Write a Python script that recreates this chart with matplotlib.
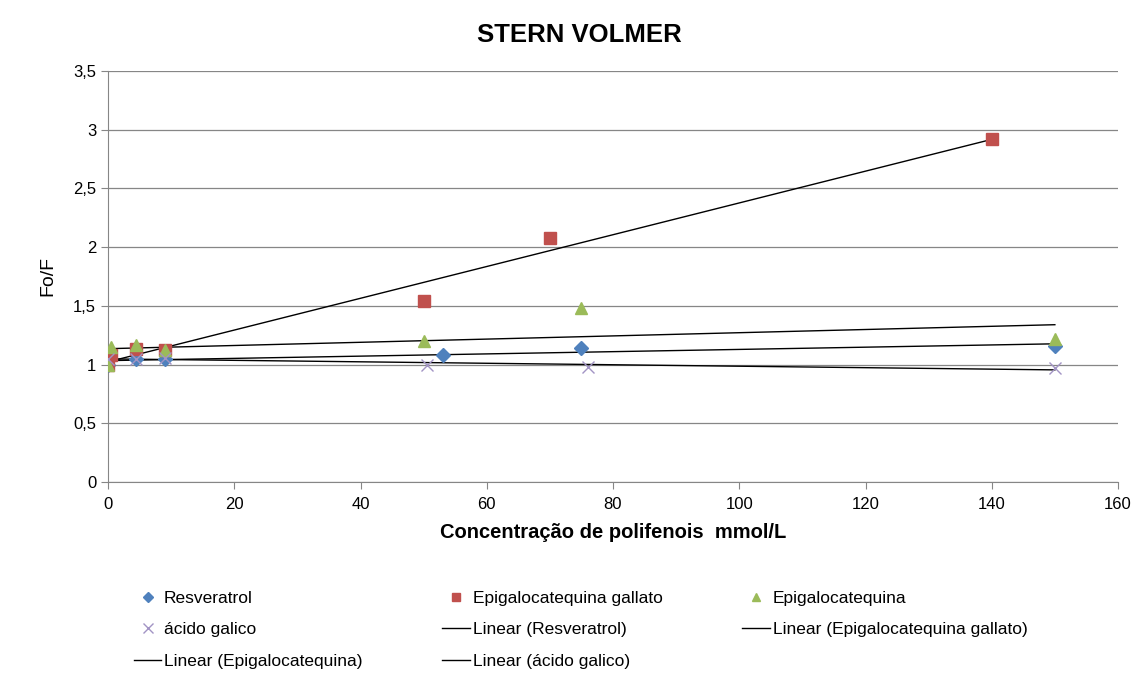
"""Stern-Volmer plot: Fo/F vs polyphenol concentration, with linear trendlines."""

import numpy as np
import matplotlib.pyplot as plt

# ── Data ──────────────────────────────────────────────────────────────────────
resv_x = [0, 4.5, 9, 53, 75, 150]
resv_y = [1.00, 1.05, 1.05, 1.08, 1.14, 1.16]

egcg_x = [0, 0.5, 4.5, 9, 50, 70, 140]
egcg_y = [1.00, 1.08, 1.13, 1.12, 1.54, 2.08, 2.92]

egc_x = [0, 0.5, 4.5, 9, 50, 75, 150]
egc_y = [1.00, 1.15, 1.17, 1.12, 1.20, 1.48, 1.22]

gal_x = [0, 4.5, 9, 50.5, 76, 150]
gal_y = [1.05, 1.05, 1.06, 1.00, 0.98, 0.97]

# ── Style ─────────────────────────────────────────────────────────────────────
BLUE   = "#4F81BD"
RED    = "#C0504D"
GREEN  = "#9BBB59"
PURPLE = "#A294C4"
GRID   = "#868686"

plt.rcParams.update({
    "font.family": ["Liberation Sans", "DejaVu Sans"],
})

fig = plt.figure(figsize=(11.36, 6.78), dpi=100)
ax = fig.add_axes([108 / 1136, 1 - 482 / 678, (1118 - 108) / 1136, (482 - 71) / 678])

series = [
    ("Resveratrol", resv_x, resv_y, "D", BLUE, 7),
    ("Epigalocatequina gallato", egcg_x, egcg_y, "s", RED, 8),
    ("Epigalocatequina", egc_x, egc_y, "^", GREEN, 8.5),
    ("ácido galico", gal_x, gal_y, "x", PURPLE, 9),
]

pts, fits = {}, {}
for name, x, y, m, c, ms in series:
    pts[name], = ax.plot(x, y, m, color=c, markersize=ms, markeredgewidth=1.0,
                         linestyle="none", zorder=3)
    k, b = np.polyfit(x, y, 1)
    xs = np.array([min(x), max(x)])
    fits[name], = ax.plot(xs, k * xs + b, color="black", linewidth=1.0, zorder=2)

ax.set_xlim(0, 160)
ax.set_ylim(0, 3.5)
ax.set_xticks(np.arange(0, 161, 20))
ax.set_yticks(np.arange(0, 3.51, 0.5))
ax.set_yticklabels(["0", "0,5", "1", "1,5", "2", "2,5", "3", "3,5"])
ax.yaxis.grid(True, color=GRID, linewidth=0.9)
ax.set_axisbelow(True)
for s in ["top", "right"]:
    ax.spines[s].set_visible(False)
for s in ["left", "bottom"]:
    ax.spines[s].set_color(GRID)
ax.tick_params(axis="both", labelsize=12, color=GRID, length=5, direction="out")
ax.tick_params(axis="x", pad=6)

ax.set_xlabel("Concentração de polifenois  mmol/L", fontsize=14.5, fontweight="bold", labelpad=8)
ax.set_ylabel("Fo/F", fontsize=14, labelpad=12)
fig.text(579 / 1136, 1 - 35 / 678, "STERN VOLMER", ha="center", va="center",
         fontsize=18.5, fontweight="bold")

# legend filled row-wise like the original (mpl fills columns)
names = [s[0] for s in series]
handles = [
    pts[names[0]], pts[names[3]], fits[names[2]],
    pts[names[1]], fits[names[0]], fits[names[3]],
    pts[names[2]], fits[names[1]],
]
labels = [
    names[0], names[3], f"Linear ({names[2]})",
    names[1], f"Linear ({names[0]})", f"Linear ({names[3]})",
    names[2], f"Linear ({names[1]})",
]
fig.legend(handles, labels, ncol=3, loc="upper left", bbox_to_anchor=(118 / 1136, 1 - 575 / 678),
           frameon=False, fontsize=12.5, handlelength=1.6, handletextpad=0.15,
           columnspacing=4.6, labelspacing=0.95, markerscale=0.75)

plt.savefig("out.png", dpi=100)
